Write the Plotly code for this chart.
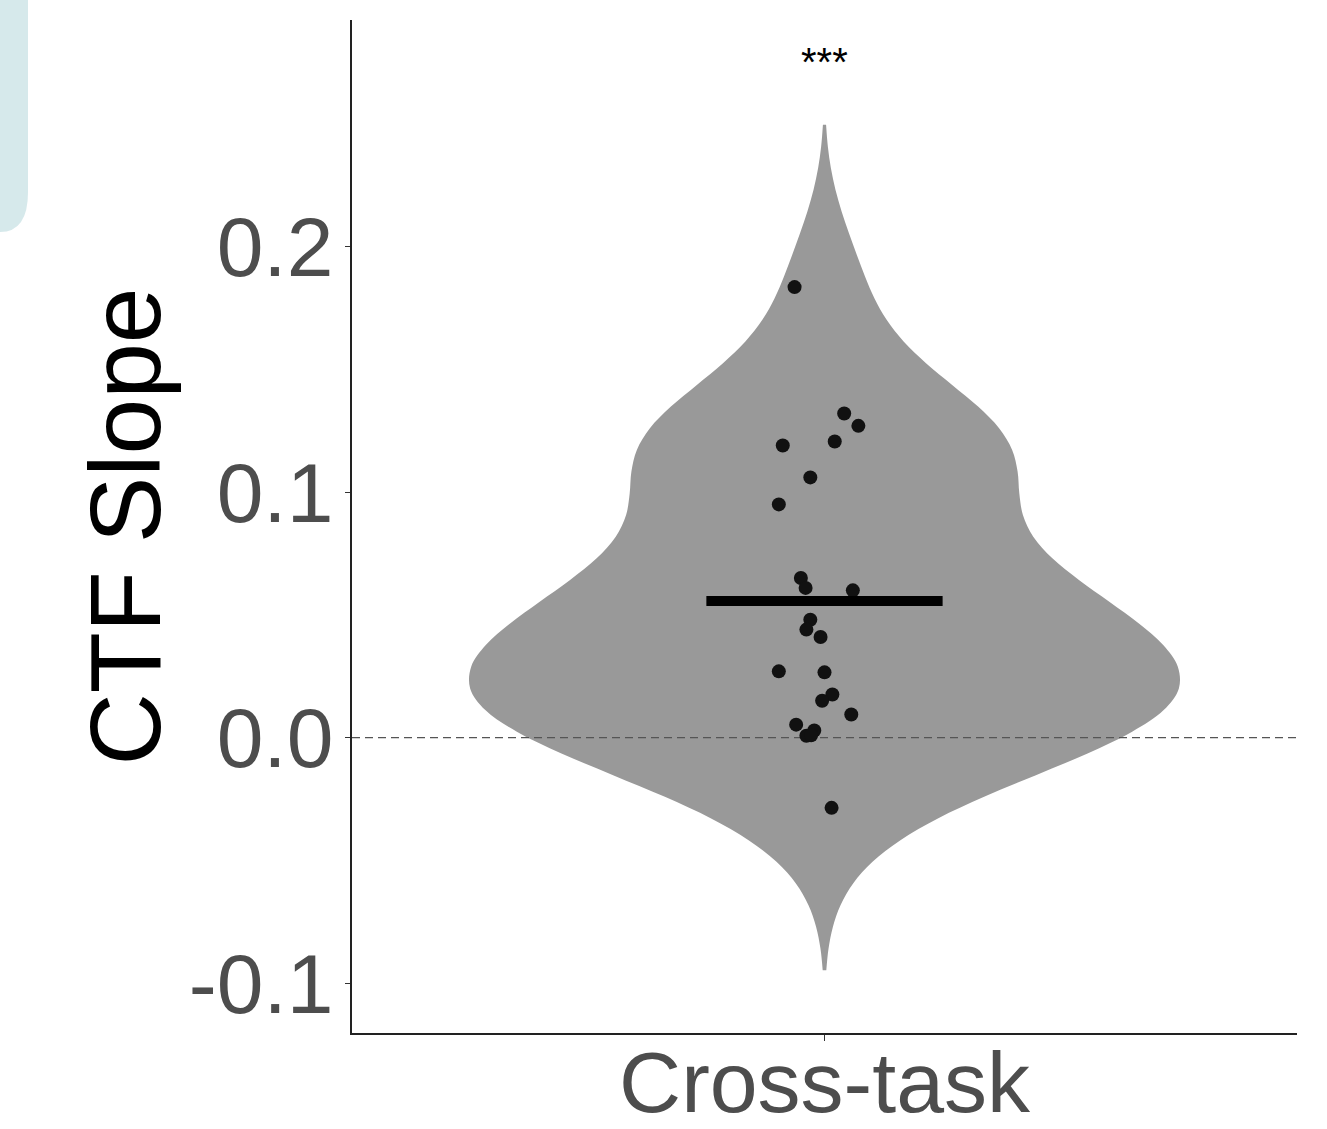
import numpy as np
import plotly.graph_objects as go

# ---- data ----
category = "Cross-task"
ctf_slope = [0.1835, 0.132, 0.127, 0.1206, 0.119, 0.106, 0.095, 0.065, 0.061, 0.060,
             0.048, 0.044, 0.041, 0.027, 0.0266, 0.0176, 0.015, 0.0094, 0.0053, 0.0029,
             0.0008, 0.001, -0.0286]
jitter_offset = [-0.038, 0.025, 0.043, 0.013, -0.053, -0.018, -0.058, -0.030, -0.024, 0.036,
                 -0.018, -0.023, -0.005, -0.058, 0.0, 0.010, -0.003, 0.034, -0.036, -0.013,
                 -0.023, -0.017, 0.009]
y_tickvals = [-0.1, 0.0, 0.1, 0.2]
y_ticktext = ["-0.1", "0.0", "0.1", "0.2"]
reference_value = 0.0
significance = "***"
violin_bandwidth = 0.027

# ---- layout constants ----
W, H = 1327, 1129
ML, MR, MT, MB = 352, 30, 20, 96
X_CENTER = 1.0
X_RANGE = [0.4, 1.6]
Y_RANGE = [-0.1203, 0.2923]
FONT = "Liberation Sans, Arial, sans-serif"

mean_value = float(np.mean(ctf_slope))
mean_half_width = 0.15
violin_span = [min(ctf_slope) - 2.45 * violin_bandwidth, max(ctf_slope) + 2.45 * violin_bandwidth]

fig = go.Figure()

fig.add_trace(go.Violin(
    y=ctf_slope, x0=X_CENTER, width=0.9, scalemode="width",
    bandwidth=violin_bandwidth, spanmode="manual", span=violin_span,
    fillcolor="#999999", line=dict(width=0, color="#999999"),
    points=False, box_visible=False, meanline_visible=False,
    hoverinfo="skip", showlegend=False, opacity=1,
))

# dashed reference line
fig.add_trace(go.Scatter(
    x=X_RANGE, y=[reference_value, reference_value], mode="lines",
    line=dict(color="#555555", width=1.3, dash="8px,5px"),
    showlegend=False, hoverinfo="skip", cliponaxis=False,
))

# jittered points
fig.add_trace(go.Scatter(
    x=[X_CENTER + j for j in jitter_offset], y=ctf_slope, mode="markers",
    marker=dict(size=14, color="#111111", line=dict(width=0)),
    showlegend=False, hoverinfo="skip",
))

# mean line
fig.add_trace(go.Scatter(
    x=[X_CENTER - mean_half_width, X_CENTER + mean_half_width],
    y=[mean_value, mean_value], mode="lines",
    line=dict(color="black", width=10),
    showlegend=False, hoverinfo="skip",
))

# helpers: pixel -> paper coordinates (for decorations only)
def px_x(p):
    return (p - ML) / (W - ML - MR)

def px_y(p):
    return (H - MB - p) / (H - MT - MB)

fig.add_annotation(
    x=X_CENTER, y=0.275, xref="x", yref="y", text=significance,
    showarrow=False, font=dict(family=FONT, size=40, color="black"),
    yanchor="middle",
)

# y-axis title
fig.add_annotation(
    x=px_x(124), y=0.5, xref="paper", yref="paper", text="CTF Slope",
    textangle=-90, showarrow=False, xanchor="center", yanchor="middle",
    font=dict(family=FONT, size=100, color="black"),
)

# light blue decoration in the top-left corner
x0, x1 = px_x(-5), px_x(28)
yt, yb = px_y(-5), px_y(232)
ycurve = px_y(192)
xcurve = px_x(0)
path = (f"M {x0},{yt} L {x1},{yt} L {x1},{ycurve} "
        f"Q {x1},{yb} {xcurve},{yb} L {x0},{yb} Z")
fig.add_shape(type="path", path=path, xref="paper", yref="paper",
              fillcolor="#d6e9eb", line=dict(width=0), layer="above")

fig.update_layout(
    width=W, height=H, autosize=False,
    margin=dict(l=ML, r=MR, t=MT, b=MB, autoexpand=False),
    paper_bgcolor="white", plot_bgcolor="white",
    font=dict(family=FONT),
    showlegend=False,
)
fig.update_xaxes(
    range=X_RANGE, tickmode="array", tickvals=[X_CENTER], ticktext=[category],
    showgrid=False, zeroline=False, showline=True, linecolor="#222222", linewidth=1.5,
    ticks="outside", ticklen=6, tickcolor="#333333", tickwidth=1.3,
    tickfont=dict(family=FONT, size=86, color="#4d4d4d"),
    ticklabelstandoff=-32, automargin=False,
)
fig.update_yaxes(
    range=Y_RANGE, tickmode="array", tickvals=y_tickvals, ticktext=y_ticktext,
    showgrid=False, zeroline=False, showline=True, linecolor="#222222", linewidth=1.5,
    ticks="outside", ticklen=5, tickcolor="#333333", tickwidth=1.3,
    tickfont=dict(family=FONT, size=84, color="#4d4d4d"),
    ticklabelstandoff=-5, automargin=False,
)

fig.write_html("out.html")
